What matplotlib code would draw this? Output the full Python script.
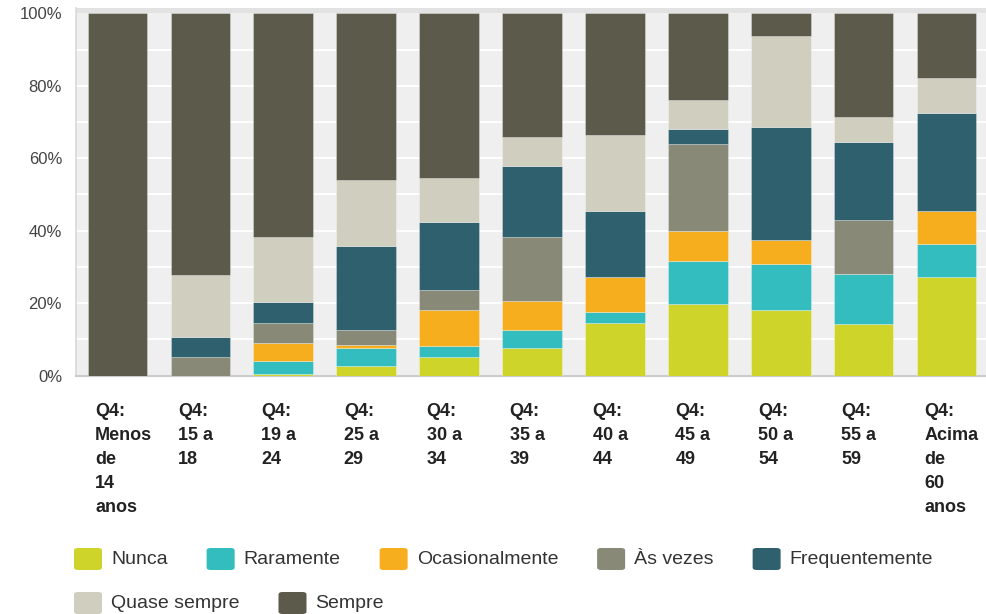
import matplotlib
matplotlib.use("Agg")
import matplotlib.pyplot as plt
from matplotlib.patches import FancyBboxPatch
import matplotlib.transforms as mtransforms
import numpy as np

# --- Data (percent of respondents per age group) ---
categories = ["Q4:\nMenos\nde\n14\nanos", "Q4:\n15 a\n18", "Q4:\n19 a\n24", "Q4:\n25 a\n29",
              "Q4:\n30 a\n34", "Q4:\n35 a\n39", "Q4:\n40 a\n44", "Q4:\n45 a\n49",
              "Q4:\n50 a\n54", "Q4:\n55 a\n59", "Q4:\nAcima\nde\n60\nanos"]

nunca          = [0, 0.0, 0.5, 2.6, 5.0, 7.5, 14.6, 19.7, 18.2, 14.1, 27.2]
raramente      = [0, 0.0, 3.5, 5.1, 3.1, 5.2, 3.0, 12.0, 12.5, 14.0, 9.1]
ocasionalmente = [0, 0.0, 5.1, 0.8, 10.1, 8.0, 9.6, 8.1, 6.6, 0.0, 9.1]
as_vezes       = [0, 5.0, 5.5, 4.2, 5.5, 17.6, 0.0, 24.2, 0.0, 14.8, 0.0]
frequentemente = [0, 5.7, 5.6, 23.1, 18.6, 19.7, 18.2, 4.0, 31.3, 21.6, 27.1]
quase_sempre   = [0, 17.1, 18.1, 18.2, 12.3, 8.0, 21.1, 8.1, 25.2, 7.0, 9.6]
sempre         = [100, 72.2, 61.7, 46.0, 45.4, 34.0, 33.5, 23.9, 6.2, 28.5, 17.9]

series_names = ["Nunca", "Raramente", "Ocasionalmente", "Às vezes", "Frequentemente",
                "Quase sempre", "Sempre"]
series_values = [nunca, raramente, ocasionalmente, as_vezes, frequentemente, quase_sempre, sempre]
colors = ["#cfd42a", "#33bdbf", "#f6ae1e", "#898977", "#2e606d", "#d0cebf", "#5c5a4a"]

W, H = 987, 614
fig = plt.figure(figsize=(W / 100, H / 100), dpi=100)
fig.patch.set_facecolor("white")

# axes placed in pixel terms
ax_left, ax_right, ax_top, ax_bottom = 76, 988, 8, 375.5
ax = fig.add_axes([ax_left / W, (H - ax_bottom) / H, (ax_right - ax_left) / W, (ax_bottom - ax_top) / H])
ax.set_facecolor("#efefef")

x = np.arange(len(categories))
bottom = np.zeros(len(categories))
for name, vals, col in zip(series_names, series_values, colors):
    vals = np.array(vals)
    ax.bar(x, vals, bottom=bottom, width=0.72, color=col, edgecolor=(1, 1, 1, 0.35),
           linewidth=0.6, zorder=3)
    bottom += vals

ax.set_xlim(-0.5, len(categories) - 0.5)
ax.set_ylim(0, 101.5)
ax.axhspan(100.1, 101.5, color="#e2e2e2", zorder=1, lw=0)

# gridlines every 10%
for g in range(10, 100, 10):
    ax.axhline(g, color="white", lw=1.3, zorder=2)

ax.set_yticks([0, 20, 40, 60, 80, 100])
ax.set_yticklabels(["0%", "20%", "40%", "60%", "80%", "100%"],
                   fontsize=12, color="#444444", family="Liberation Sans")
ax.tick_params(axis="y", length=0, pad=10)
ax.set_xticks([])

for s in ["top", "right"]:
    ax.spines[s].set_visible(False)
ax.spines["left"].set_color("#d9d9d9")
ax.spines["left"].set_linewidth(1.2)
ax.spines["bottom"].set_color("#cccccc")
ax.spines["bottom"].set_linewidth(1.5)

# category labels, left aligned under each bar
trans = mtransforms.blended_transform_factory(ax.transData, ax.transAxes)
for xi, lab in zip(x, categories):
    ax.text(xi - 0.27, -0.074, lab, transform=trans, ha="left", va="top",
            fontsize=13, fontweight="bold", color="#222222", family="Liberation Sans",
            linespacing=1.55)

# legend drawn by hand, two rows
fig.canvas.draw()
renderer = fig.canvas.get_renderer()
rows = [series_names[:5], series_names[5:]]
row_y = [559, 603]
ci = 0
for names, yc in zip(rows, row_y):
    xp = 74
    for name in names:
        sq = FancyBboxPatch((xp / W, (H - yc - 11) / H), 28 / W, 22 / H,
                            boxstyle="round,pad=0,rounding_size=0.004",
                            transform=fig.transFigure, facecolor=colors[ci],
                            edgecolor="none")
        fig.patches.append(sq)
        t = fig.text((xp + 37) / W, (H - yc) / H, name, ha="left", va="center",
                     fontsize=14, color="#333333", family="Liberation Sans")
        bb = t.get_window_extent(renderer)
        xp = bb.x1 + 39
        ci += 1

fig.savefig("out.png", dpi=100)
